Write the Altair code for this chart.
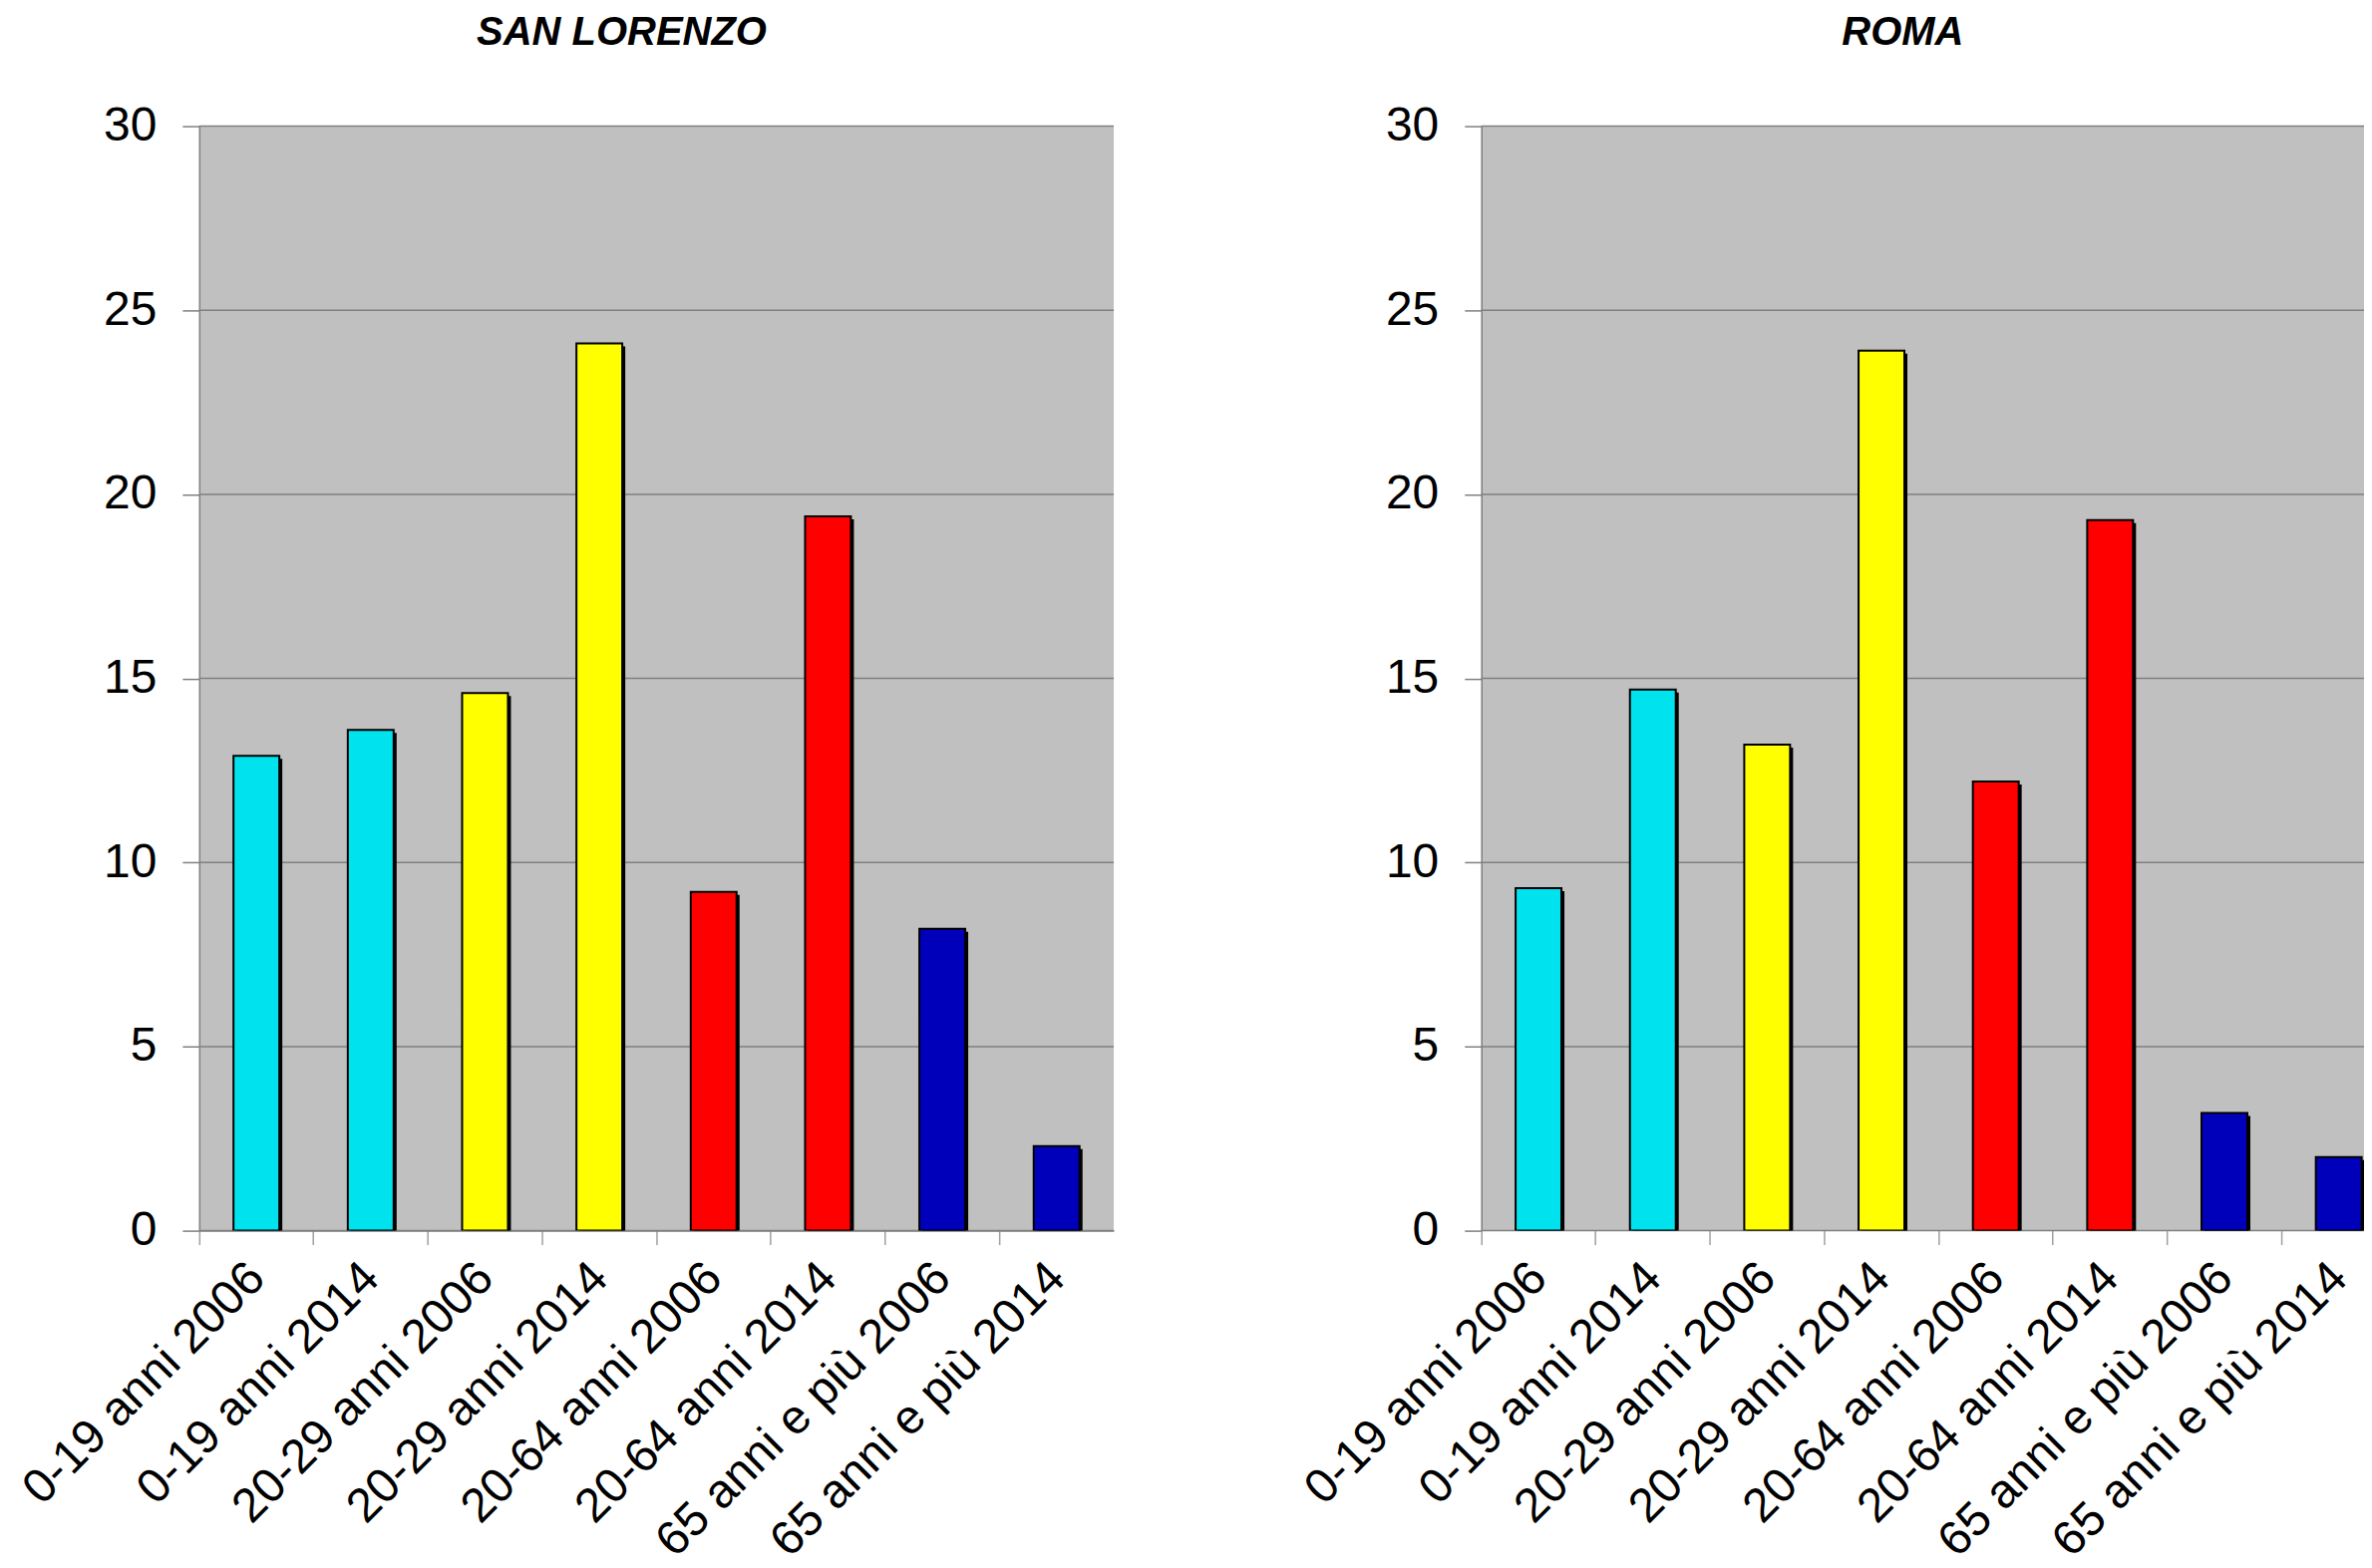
import altair as alt
import pandas as pd

categories = ["0-19 anni 2006", "0-19 anni 2014", "20-29 anni 2006", "20-29 anni 2014",
              "20-64 anni 2006", "20-64 anni 2014", "65 anni e più 2006", "65 anni e più 2014"]
groups = ["0-19", "0-19", "20-29", "20-29", "20-64", "20-64", "65+", "65+"]
group_names = ["0-19", "20-29", "20-64", "65+"]
san_lorenzo = [12.9, 13.6, 14.6, 24.1, 9.2, 19.4, 8.2, 2.3]
roma = [9.3, 14.7, 13.2, 23.9, 12.2, 19.3, 3.2, 2.0]
y_ticks = [0, 5, 10, 15, 20, 25, 30]

FONT = "Liberation Sans"
colors = ["#00E3EE", "#FFFF00", "#FF0000", "#0000BB"]

PLOT_W = 918


def panel(title, values, width, show_domain, title_dx):
    df = pd.DataFrame({"cat": categories, "group": groups, "value": values})
    grid_df = pd.DataFrame({"tick": y_ticks})
    base = alt.Chart(df)
    x = alt.X("cat:N", sort=categories, title=None,
              scale=alt.Scale(paddingInner=0, paddingOuter=0, rangeMax=PLOT_W),
              axis=alt.Axis(labelAngle=-45, labelAlign="right", labelBaseline="middle",
                            labelFontSize=48, labelFont=FONT, labelColor="black",
                            labelPadding=26, labelOffset=1, tickSize=14, bandPosition=0,
                            labelLimit=0, tickColor="#a0a0a0", tickWidth=1.5,
                            domainColor="#808080", domainWidth=1.5, grid=False,
                            labelOverlap=False, domain=show_domain))
    yscale = alt.Scale(domain=[0, 30], nice=False)
    y = alt.Y("value:Q", title=None, scale=yscale,
              axis=alt.Axis(values=y_ticks, labelFontSize=48, labelFont=FONT,
                            labelColor="black", tickSize=17, tickColor="#808080",
                            tickWidth=1.5, domainColor="#808080", domainWidth=1.5,
                            grid=False, labelPadding=26,
                            minExtent=96, maxExtent=96))
    grid = alt.Chart(grid_df).mark_rule(color="#808080", strokeWidth=1.5).encode(
        y=alt.Y("tick:Q", scale=yscale))
    shadow = base.mark_bar(size=46, color="black", xOffset=3, yOffset=3, clip=True).encode(x=x, y=y)
    bars = base.mark_bar(size=46, stroke="black", strokeWidth=2, clip=True).encode(
        x=x, y=y,
        color=alt.Color("group:N", scale=alt.Scale(domain=group_names, range=colors),
                        legend=None))
    return alt.layer(grid, shadow, bars).properties(
        width=width, height=1109,
        title=alt.TitleParams(title, fontSize=40, fontWeight="bold", fontStyle="italic",
                              font=FONT, anchor="middle", frame="group", dx=title_dx,
                              offset=50, color="black"))


left = panel("SAN LORENZO", san_lorenzo, PLOT_W, True, -35)
right = panel("ROMA", roma, 886, False, -20)

chart = alt.hconcat(left, right, spacing=182).properties(
    padding={"left": 6, "top": 4, "right": -32, "bottom": -14},
    background="white"
).configure_view(fill="#C0C0C0", stroke=None)

chart.save("out.html", embed_options={"renderer": "svg", "actions": False})
